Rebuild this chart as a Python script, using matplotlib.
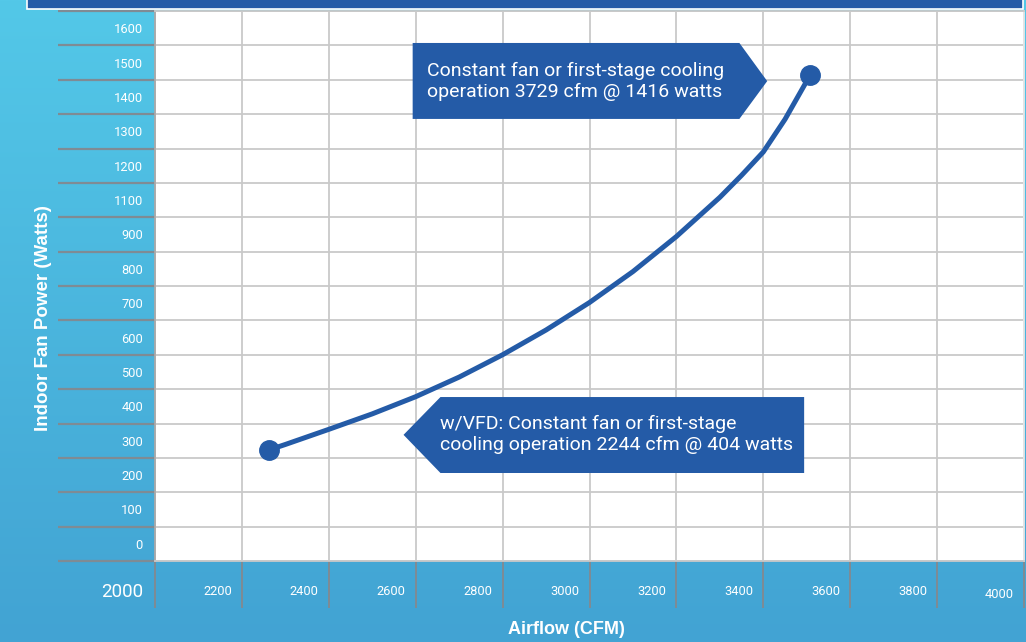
import numpy as np
import matplotlib
matplotlib.use("Agg")
import matplotlib.pyplot as plt
import matplotlib.transforms as mtransforms
from matplotlib.patches import Polygon, Rectangle

# Data
airflow_cfm = [2262, 2300, 2400, 2500, 2600, 2700, 2800, 2900, 3000, 3100, 3200, 3300, 3350, 3400, 3450, 3508]
fan_watts = [323, 339, 383, 428, 478, 535, 600, 672, 752, 842, 944, 1058, 1122, 1190, 1285, 1414]

x_ticks = [2000, 2200, 2400, 2600, 2800, 3000, 3200, 3400, 3600, 3800, 4000]
y_rows = [0, 100, 200, 300, 400, 500, 600, 700, 800, 900, 1000, 1100, 1200, 1300, 1400, 1500, 1600]
y_row_labels = ['0', '100', '200', '300', '400', '500', '600', '700', '800', '900',
                '1100', '1200', '1300', '1400', '1500', '1600']

label_top = "Constant fan or first-stage cooling\noperation 3729 cfm @ 1416 watts"
label_bottom = "w/VFD: Constant fan or first-stage\ncooling operation 2244 cfm @ 404 watts"

dark_blue = '#245ba7'
band_gray = '#7f8b94'
grid_gray = '#c9c9c9'

plt.rcParams['font.family'] = ['Roboto', 'DejaVu Sans']

W, H = 1026, 642
fig = plt.figure(figsize=(W / 100, H / 100), dpi=100)

# gradient background
bg = fig.add_axes([0, 0, 1, 1])
bg.axis('off')
top_c = np.array([0x53, 0xc8, 0xe8]) / 255
bot_c = np.array([0x42, 0xa3, 0xd3]) / 255
t = np.linspace(0, 1, 256)[:, None]
grad = top_c[None, :] * (1 - t[:, :, None]) + bot_c[None, :] * t[:, :, None]
grad = np.repeat(grad, 2, axis=1)
bg.imshow(grad, aspect='auto', extent=[0, 1, 0, 1])
bg.set_xlim(0, 1)
bg.set_ylim(0, 1)

# dark bar at the top
fig.patches.append(Rectangle((27 / W, 1 - 9 / H), (1023 - 27) / W, 12 / H,
                             transform=fig.transFigure, facecolor=dark_blue,
                             edgecolor='white', linewidth=1.2, zorder=1))

ax = fig.add_axes([155 / W, 1 - 561 / H, 869 / W, 550 / H])
ax.set_facecolor('white')
ax.set_xlim(2000, 4000)
ax.set_ylim(0, 1600)

ax.set_xticks(x_ticks)
ax.set_xticklabels([str(v) for v in x_ticks])
ax.set_yticks(y_rows)
ax.set_yticklabels([''] * len(y_rows))
ax.set_yticks([v + 50 for v in y_rows[:-1]], minor=True)
ax.set_yticklabels(y_row_labels, minor=True)

ax.grid(True, color=grid_gray, linewidth=1.3, zorder=0)
ax.set_axisbelow(True)
for s in ['left', 'bottom', 'top']:
    ax.spines[s].set_color(grid_gray)
    ax.spines[s].set_linewidth(1.3)
ax.spines['left'].set_color('#a9a9a9')
ax.spines['right'].set_color('#e8e8e8')
ax.spines['right'].set_linewidth(1.3)

ax.tick_params(axis='y', which='major', direction='out', length=97 * 0.72,
               width=1.6, color=band_gray)
ax.tick_params(axis='y', which='minor', length=0, pad=12 * 0.72,
               labelsize=9.3, labelcolor='white')
ax.tick_params(axis='x', which='major', direction='out', length=47 * 0.72,
               width=1.4, color=band_gray, pad=0,
               labelsize=9.3, labelcolor='white')


def shift(dx, dy):
    return mtransforms.ScaledTranslation(dx / 100, dy / 100, fig.dpi_scale_trans)


xlabels = ax.get_xticklabels()
for lab in xlabels:
    lab.set_horizontalalignment('right')
    lab.set_transform(lab.get_transform() + shift(-10, 23))
xlabels[0].set_fontsize(13.5)
xlabels[0].set_transform(xlabels[0].get_transform() + shift(-2, 2))
xlabels[-1].set_transform(xlabels[-1].get_transform() + shift(0, -3))

# curve and end points
ax.plot(airflow_cfm, fan_watts, color=dark_blue, linewidth=3.6,
        solid_capstyle='round', solid_joinstyle='round', zorder=3)
ax.plot([airflow_cfm[0], airflow_cfm[-1]], [fan_watts[0], fan_watts[-1]], 'o',
        color=dark_blue, markersize=14, zorder=4)

# callouts
ax.add_patch(Polygon([(2593, 1507), (3345, 1507), (3409, 1396), (3345, 1286), (2593, 1286)],
                     closed=True, facecolor=dark_blue, edgecolor='none', zorder=5))
ax.text(2625, 1394, label_top, color='white', fontsize=14, ha='left', va='center',
        linespacing=1.22, zorder=6)
ax.add_patch(Polygon([(2572, 367), (2657, 477), (3494, 477), (3494, 256), (2657, 256)],
                     closed=True, facecolor=dark_blue, edgecolor='none', zorder=5))
ax.text(2655, 367, label_bottom, color='white', fontsize=14, ha='left', va='center',
        linespacing=1.22, zorder=6)

fig.text(44 / W, 1 - 318 / H, 'Indoor Fan Power (Watts)', rotation=90, color='white',
         fontsize=13.5, fontweight='bold', ha='center', va='center',
         family=['Liberation Sans', 'DejaVu Sans'])
fig.text(566 / W, 1 - 630 / H, 'Airflow (CFM)', color='white',
         fontsize=13, fontweight='bold', ha='center', va='center',
         family=['Liberation Sans', 'DejaVu Sans'])

fig.savefig('out.png', dpi=100)
